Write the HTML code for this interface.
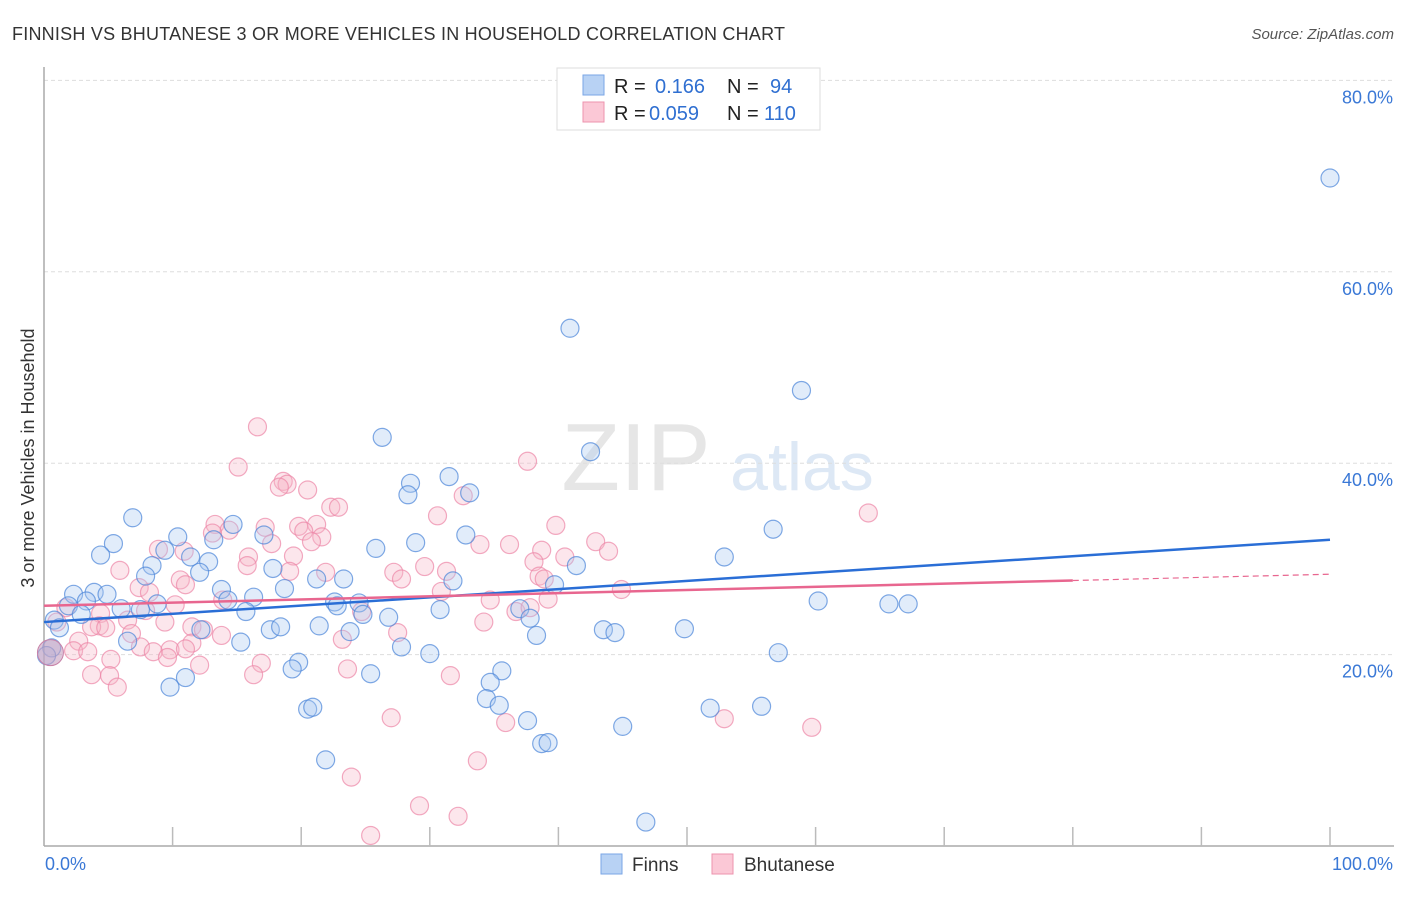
<!DOCTYPE html>
<html><head><meta charset="utf-8"><style>
body{margin:0;background:#fff;font-family:"Liberation Sans",sans-serif;}
svg text{font-family:"Liberation Sans",sans-serif;}
</style></head><body>
<svg id="chart" width="1406" height="892" xmlns="http://www.w3.org/2000/svg">
<text x="12" y="40" font-size="18" fill="#333" textLength="773">FINNISH VS BHUTANESE 3 OR MORE VEHICLES IN HOUSEHOLD CORRELATION CHART</text>
<text x="1394" y="39" font-size="15" fill="#555" text-anchor="end" font-style="italic">Source: ZipAtlas.com</text>
<text x="636" y="490" font-size="96" fill="#e6e6e6" text-anchor="middle" font-family="Liberation Serif">ZIP</text>
<text x="802" y="490" font-size="68" fill="#dde8f5" text-anchor="middle">atlas</text>
<g id="grid"></g><g id="axes"></g><g id="pts"></g><g id="trend"></g>
<text transform="translate(34,458) rotate(-90)" font-size="18" fill="#333" text-anchor="middle">3 or more Vehicles in Household</text>
<g>
<rect x="557" y="68" width="263" height="62" fill="#fff" stroke="#ddd"/>
<rect x="583" y="75" width="21" height="20" fill="#b8d2f4" stroke="#7aa6e6"/>
<rect x="583" y="102" width="21" height="20" fill="#fbc8d6" stroke="#ec93ae"/>
<text x="614" y="93" font-size="20" fill="#222">R = </text><text x="655" y="93" font-size="20" fill="#2f6fd1">0.166</text>
<text x="727" y="93" font-size="20" fill="#222">N = </text><text x="770" y="93" font-size="20" fill="#2f6fd1">94</text>
<text x="614" y="120" font-size="20" fill="#222">R = </text><text x="649" y="120" font-size="20" fill="#2f6fd1">0.059</text>
<text x="727" y="120" font-size="20" fill="#222">N = </text><text x="764" y="120" font-size="20" fill="#2f6fd1">110</text>
</g>
<g>
<rect x="601" y="854" width="21" height="20" fill="#b8d2f4" stroke="#7aa6e6"/>
<text x="632" y="871" font-size="19" fill="#333">Finns</text>
<rect x="712" y="854" width="21" height="20" fill="#fbc8d6" stroke="#ec93ae"/>
<text x="744" y="871" font-size="19" fill="#333">Bhutanese</text>
</g>
</svg>
<script>
const yTicks=[20,40,60,80];
const xLabels=["0.0%","100.0%"];
const finnsX=[100,40.9,58.9,42.5,26.3,31.5,28.5,28.3,33.1,6.9,14.7,10.4,32.8,17.1,56.7,5.4,13.2,25.8,28.9,4.4,9.4,11.4,12.8,52.9,8.4,17.8,41.4,12.1,7.9,21.2,23.3,31.8,39.7,18.7,13.8,2.3,3.9,4.9,3.3,14.3,16.3,8.8,1.9,22.6,24.5,6.0,7.5,15.7,22.8,24.8,30.8,37.0,60.2,65.7,67.2,2.9,26.8,37.8,0.8,1.2,21.4,12.2,17.6,18.4,23.8,43.5,44.4,49.8,38.3,6.5,15.3,27.8,30.0,57.1,0.6,0.2,19.8,19.3,35.6,25.4,11.0,9.8,34.7,34.4,35.4,20.5,20.9,51.8,55.8,37.6,45.0,38.7,39.2,21.9,46.8];
const finnsY=[69.8,54.1,47.6,41.2,42.7,38.6,37.9,36.7,36.9,34.3,33.6,32.3,32.5,32.5,33.1,31.6,32.0,31.1,31.7,30.4,30.9,30.2,29.7,30.2,29.3,29.0,29.3,28.6,28.2,27.9,27.9,27.7,27.3,26.9,26.8,26.3,26.5,26.3,25.6,25.7,26.0,25.3,25.1,25.5,25.4,24.8,24.7,24.5,25.1,24.2,24.7,24.8,25.6,25.3,25.3,24.2,23.9,23.8,23.6,22.8,23.0,22.6,22.6,22.9,22.4,22.6,22.3,22.7,22.0,21.4,21.3,20.8,20.1,20.2,20.7,19.9,19.2,18.5,18.3,18.0,17.6,16.6,17.1,15.4,14.7,14.3,14.5,14.4,14.6,13.1,12.5,10.7,10.8,9.0,2.5];
const bhutX=[16.6,15.1,37.6,18.6,18.9,18.3,20.5,32.6,22.3,22.9,64.1,30.6,13.3,39.8,17.2,19.8,21.2,14.4,13.1,20.2,21.6,42.9,17.7,33.9,36.2,20.8,8.9,10.9,43.9,38.7,19.4,15.9,40.5,38.1,15.8,29.6,5.9,19.1,21.9,27.2,31.3,38.5,27.8,10.6,38.9,11.0,7.4,30.9,44.9,8.2,13.9,34.7,39.2,10.2,1.7,4.4,7.9,24.7,36.7,37.8,1.0,6.5,4.3,3.7,4.8,11.5,9.4,34.2,6.8,12.4,27.5,13.8,23.2,2.7,11.5,7.5,9.8,11.0,2.3,3.4,8.5,5.2,9.6,12.1,16.9,23.6,3.7,5.1,16.3,31.6,5.7,27.0,35.9,52.9,59.7,33.7,23.9,29.2,32.2,25.4];
const bhutY=[43.8,39.6,40.2,38.1,37.8,37.5,37.2,36.6,35.4,35.4,34.8,34.5,33.6,33.5,33.3,33.4,33.6,33.0,32.7,32.9,32.3,31.8,31.6,31.5,31.5,31.8,31.0,30.8,30.8,30.9,30.3,30.2,30.2,29.7,29.3,29.2,28.8,28.7,28.6,28.6,28.7,28.2,27.9,27.8,27.9,27.3,27.0,26.6,26.8,26.5,25.7,25.7,25.8,25.2,24.9,24.3,24.6,24.5,24.5,24.9,23.4,23.6,23.0,22.9,22.8,22.9,23.4,23.4,22.2,22.6,22.3,22.0,21.6,21.4,21.2,20.8,20.5,20.6,20.4,20.3,20.3,19.5,19.7,18.9,19.1,18.5,17.9,17.8,17.9,17.8,16.6,13.4,12.9,13.3,12.4,8.9,7.2,4.2,3.1,1.1];
const finnsTrend=[23.4,32.0];
const bhutTrend=[25.1,28.4];
const X0=44,X1=1330,Y0=846,YS=9.57;
function sx(v){return X0+(X1-X0)*v/100;}
function sy(v){return Y0-v*YS;}
const NS="http://www.w3.org/2000/svg";
function mk(tag,attrs,parent){const e=document.createElementNS(NS,tag);for(const k in attrs)e.setAttribute(k,attrs[k]);parent.appendChild(e);return e;}
const grid=document.getElementById('grid'),axes=document.getElementById('axes'),pts=document.getElementById('pts'),trend=document.getElementById('trend');
yTicks.forEach(t=>{
  const l=mk('line',{x1:X0,x2:1394,y1:sy(t),y2:sy(t),stroke:'#ddd','stroke-dasharray':'4,3'},grid);
  
  
  const tx=mk('text',{x:1393,y:sy(t)+23,'font-size':18,fill:'#3a78d6','text-anchor':'end'},grid);
  tx.textContent=t+'.0%';
  
  
});
const ya=mk('line',{x1:X0,x2:X0,y1:67,y2:Y0,stroke:'#aaa','stroke-width':1.5},axes);


const xa=mk('line',{x1:X0,x2:1394,y1:Y0,y2:Y0,stroke:'#aaa','stroke-width':1.5},axes);


for(let i=1;i<=10;i++){
  const t=mk('line',{x1:sx(i*10),x2:sx(i*10),y1:Y0-19,y2:Y0,stroke:'#bbb','stroke-width':1.5},axes);
  
  
}
const xl0=mk('text',{x:45,y:870,'font-size':18,fill:'#3a78d6'},axes);xl0.textContent=xLabels[0];


const xl1=mk('text',{x:1393,y:870,'font-size':18,fill:'#3a78d6','text-anchor':'end'},axes);xl1.textContent=xLabels[1];


function drawPts(xs,ys,fill,stroke,name){
  xs.forEach((x,i)=>{
    const c=mk('circle',{cx:sx(x),cy:sy(ys[i]),r:9,fill:fill,'fill-opacity':0.35,stroke:stroke,'stroke-opacity':0.7,'stroke-width':1.2},pts);
    
    
  });
}
drawPts(bhutX,bhutY,'#f7b6c9','#ec86a6','bhutanese-point');
drawPts(finnsX,finnsY,'#a9c8f0','#4a85d8','finns-point');
const big=mk('circle',{cx:sx(0.5),cy:sy(20.2),r:13,fill:'#c7a0bf','fill-opacity':0.6,stroke:'#c882a8'},pts);


const bl=mk('line',{x1:sx(0),y1:sy(finnsTrend[0]),x2:sx(100),y2:sy(finnsTrend[1]),stroke:'#2a6ed6','stroke-width':2.5},trend);


const pe=80, pm=bhutTrend[0]+(bhutTrend[1]-bhutTrend[0])*pe/100;
const pl=mk('line',{x1:sx(0),y1:sy(bhutTrend[0]),x2:sx(pe),y2:sy(pm),stroke:'#e8668f','stroke-width':2.5},trend);


const pd=mk('line',{x1:sx(pe),y1:sy(pm),x2:sx(100),y2:sy(bhutTrend[1]),stroke:'#e8668f','stroke-width':1.2,'stroke-dasharray':'6,4'},trend);


</script>
</body></html>
